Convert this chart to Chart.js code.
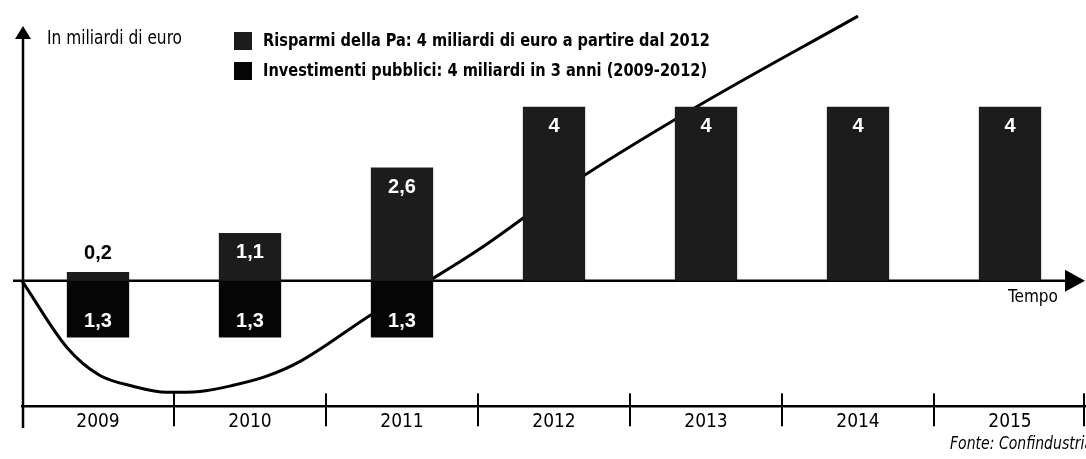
<!DOCTYPE html>
<html>
<head>
<meta charset="utf-8">
<script src="https://cdn.jsdelivr.net/npm/chart.js@4"></script>
<style>
  html, body { margin: 0; padding: 0; background: #fff; }
  #wrap { width: 1086px; height: 459px; position: relative; }
</style>
</head>
<body>
<div id="wrap"><canvas id="myChart"></canvas></div>
<script>
// Data
const years = ['2009', '2010', '2011', '2012', '2013', '2014', '2015'];
const risparmi = [0.2, 1.1, 2.6, 4, 4, 4, 4];
const investimenti = [-1.3, -1.3, -1.3, null, null, null, null];
const seriesNames = [
    'Risparmi della Pa: 4 miliardi di euro a partire dal 2012',
    'Investimenti pubblici: 4 miliardi in 3 anni (2009-2012)'
];
// Effect curve (time in years from start of 2009, value in miliardi)
const curveT = [0, 0.30, 0.51, 0.73, 0.95, 1.17, 1.39, 1.61, 1.83, 2.31, 2.72, 3.01, 3.62, 4.43, 5.50];
const curveV = [0, -1.55, -2.17, -2.42, -2.56, -2.54, -2.40, -2.19, -1.85, -0.75, 0.09, 0.73, 2.24, 3.98, 6.08];

const narrow = "'Liberation Sans Narrow', 'DejaVu Sans Condensed', Arial, sans-serif";
Chart.defaults.font.family = narrow;
Chart.defaults.color = '#000';

const ctx = document.getElementById('myChart').getContext('2d');

function fmt(v) {
    return String(Math.abs(v)).replace('.', ',');
}

// squeeze text horizontally so it takes the given width
function fitText(c, text, x, y, width) {
    const s = Math.min(1, width / c.measureText(text).width);
    c.save();
    c.translate(x, y);
    c.scale(s, 1);
    c.fillText(text, 0, 0);
    c.restore();
    return s;
}

// axes, arrows, labels and legend drawn around the chart
const decor = {
    id: 'decor',
    beforeDatasetsDraw(chart) {
        const c = chart.ctx;
        const area = chart.chartArea;
        const xs = chart.scales.x;
        const y0 = chart.scales.y.getPixelForValue(0);
        c.save();
        c.strokeStyle = '#000';
        c.fillStyle = '#000';

        // vertical axis with arrow
        const ax = area.left + 1;
        c.lineWidth = 2.5;
        c.beginPath();
        c.moveTo(ax, 428);
        c.lineTo(ax, 36);
        c.stroke();
        c.beginPath();
        c.moveTo(ax, 26);
        c.lineTo(ax - 8, 39);
        c.lineTo(ax + 8, 39);
        c.closePath();
        c.fill();

        // zero line with arrow (Tempo)
        c.beginPath();
        c.moveTo(13, y0);
        c.lineTo(area.right - 18, y0);
        c.stroke();
        c.beginPath();
        c.moveTo(area.right - 1, y0);
        c.lineTo(area.right - 21, y0 - 11);
        c.lineTo(area.right - 21, y0 + 11);
        c.closePath();
        c.fill();

        // year separators on the time axis
        const step = xs.getPixelForValue(1) - xs.getPixelForValue(0);
        c.lineWidth = 2;
        for (let i = 0; i <= years.length; i++) {
            let bx = xs.getPixelForValue(0) - step / 2 + i * step;
            bx = Math.min(bx, area.right - 2);
            bx = Math.max(bx, area.left + 1);
            c.beginPath();
            c.moveTo(bx, area.bottom - 13);
            c.lineTo(bx, area.bottom + 20);
            c.stroke();
        }
        c.restore();
    },
    afterDatasetsDraw(chart) {
        const c = chart.ctx;
        c.save();
        c.font = "bold 20px 'Liberation Sans', Arial, sans-serif";
        c.textAlign = 'center';
        c.textBaseline = 'middle';
        [0, 1].forEach(di => {
            const meta = chart.getDatasetMeta(di);
            const vals = chart.data.datasets[di].data;
            meta.data.forEach((bar, i) => {
                const v = vals[i];
                if (v === null || v === undefined) return;
                const h = Math.abs(bar.base - bar.y);
                if (v > 0) {
                    if (h < 30) {
                        c.fillStyle = '#000';
                        c.fillText(fmt(v), bar.x, bar.y - 19);
                    } else {
                        c.fillStyle = '#fff';
                        c.fillText(fmt(v), bar.x, bar.y + 20);
                    }
                } else {
                    c.fillStyle = '#fff';
                    c.fillText(fmt(v), bar.x, bar.y - 16);
                }
            });
        });
        c.restore();
    },
    afterDraw(chart) {
        const c = chart.ctx;
        const y0 = chart.scales.y.getPixelForValue(0);
        c.save();
        c.fillStyle = '#000';
        c.textBaseline = 'middle';
        c.textAlign = 'left';

        c.font = '19px ' + narrow;
        fitText(c, 'In miliardi di euro', 47, 39, 135);

        // legend
        c.font = 'bold 18px ' + narrow;
        const s = 447 / c.measureText(chart.data.datasets[0].label).width;
        [0, 1].forEach(di => {
            const ds = chart.data.datasets[di];
            const ry = 41 + di * 30;
            c.fillStyle = ds.backgroundColor;
            c.fillRect(234, ry - 9, 18, 18);
            c.fillStyle = '#000';
            fitText(c, ds.label, 263, ry, c.measureText(ds.label).width * s);
        });

        c.font = '18px ' + narrow;
        fitText(c, 'Tempo', 1008, y0 + 17, 50);

        c.font = 'italic 18px ' + narrow;
        fitText(c, 'Fonte: Confindustria', 950, 444, 143);
        c.restore();
    }
};

new Chart(ctx, {
    data: {
        labels: years,
        datasets: [
            {
                type: 'bar',
                label: seriesNames[0],
                data: risparmi,
                backgroundColor: '#1c1c1c',
                barPercentage: 0.41,
                categoryPercentage: 1,
                grouped: false,
                order: 0
            },
            {
                type: 'bar',
                label: seriesNames[1],
                data: investimenti,
                backgroundColor: '#050505',
                barPercentage: 0.41,
                categoryPercentage: 1,
                grouped: false,
                order: 0
            },
            {
                type: 'line',
                label: 'curve',
                xAxisID: 'xc',
                data: curveT.map((t, i) => ({ x: t, y: curveV[i] })),
                borderColor: '#000',
                borderWidth: 3,
                pointRadius: 0,
                cubicInterpolationMode: 'monotone',
                fill: false,
                clip: false,
                order: 1
            }
        ]
    },
    options: {
        responsive: true,
        maintainAspectRatio: false,
        animation: false,
        layout: { padding: { top: 10, left: 22, right: 0, bottom: 22 } },
        scales: {
            x: {
                offset: true,
                grid: { display: false, drawTicks: false },
                border: { display: true, color: '#000', width: 2.5 },
                ticks: { padding: 4, font: { size: 19 }, color: '#000', maxRotation: 0 }
            },
            xc: { type: 'linear', display: false, min: 0, max: 7 },
            y: { display: false, min: -2.88, max: 6.22 }
        },
        plugins: {
            legend: { display: false },
            tooltip: { enabled: false }
        }
    },
    plugins: [decor]
});
</script>
</body>
</html>
